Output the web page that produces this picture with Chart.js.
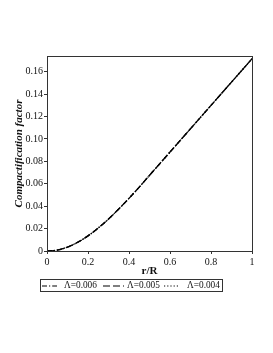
<!DOCTYPE html>
<html>
<head>
<meta charset="utf-8">
<script src="https://cdn.jsdelivr.net/npm/chart.js@4/dist/chart.umd.min.js"></script>
<style>
  html, body { margin: 0; padding: 0; background: #fff; }
  #wrap { position: relative; width: 273px; height: 353px; overflow: hidden; }
  #legend { position: absolute; left: 40px; top: 279px; width: 183px; height: 13px; box-sizing: border-box;
            border: 1px solid #333; font-family: 'Liberation Serif', 'Times New Roman', serif; font-size: 9.3px; color: #111; }
  #legend .it { position: absolute; top: 0; line-height: 11px; white-space: nowrap; }
  #legend svg { position: absolute; top: 5px; }
</style>
</head>
<body>
<div id="wrap">
  <canvas id="c" width="273" height="353"></canvas>
  <div id="legend"></div>
</div>
<script>
// ---- data ----
const rOverR     = [0, 0.05, 0.1, 0.15, 0.2, 0.25, 0.3, 0.35, 0.4, 0.45, 0.5, 0.55, 0.6, 0.65, 0.7, 0.75, 0.8, 0.85, 0.9, 0.95, 1.0];
const lambda006  = [0, 0.0008, 0.0035, 0.0078, 0.0135, 0.0205, 0.0285, 0.0375, 0.0470, 0.0570, 0.0675, 0.0779, 0.0883, 0.0987, 0.1091, 0.1195, 0.1299, 0.1403, 0.1507, 0.1611, 0.1715];
const lambda005  = [0, 0.0008, 0.0035, 0.0078, 0.0135, 0.0205, 0.0285, 0.0375, 0.0470, 0.0570, 0.0675, 0.0779, 0.0883, 0.0987, 0.1091, 0.1195, 0.1299, 0.1403, 0.1507, 0.1611, 0.1715];
const lambda004  = [0, 0.0008, 0.0035, 0.0078, 0.0135, 0.0205, 0.0285, 0.0375, 0.0470, 0.0570, 0.0675, 0.0779, 0.0883, 0.0987, 0.1091, 0.1195, 0.1299, 0.1403, 0.1507, 0.1611, 0.1715];
const seriesLabels = ['\u039B=0.006', '\u039B=0.005', '\u039B=0.004'];
const xTickValues = [0, 0.2, 0.4, 0.6, 0.8, 1];
const yTickValues = [0, 0.02, 0.04, 0.06, 0.08, 0.10, 0.12, 0.14, 0.16];

const FONT = "'Liberation Serif', 'Times New Roman', serif";
const dashes = [[5, 2, 1.2, 2], [7, 3], [1.2, 2]];
const seriesValues = [lambda006, lambda005, lambda004];

const toPts = arr => rOverR.map((x, i) => ({ x: x, y: arr[i] }));

const frame = {
  id: 'frame',
  afterDraw(chart) {
    const { ctx, chartArea: a } = chart;
    ctx.save();
    ctx.strokeStyle = '#333';
    ctx.lineWidth = 1;
    ctx.strokeRect(Math.round(a.left) + 0.5, Math.round(a.top) + 0.5,
                   Math.round(a.right - a.left), Math.round(a.bottom - a.top));
    ctx.restore();
  }
};

new Chart(document.getElementById('c'), {
  type: 'line',
  data: {
    datasets: seriesValues.map((arr, k) => ({
      label: seriesLabels[k],
      data: toPts(arr),
      borderColor: '#000',
      borderWidth: 1.3,
      borderDash: dashes[k],
      pointRadius: 0,
      fill: false,
      cubicInterpolationMode: 'monotone'
    }))
  },
  options: {
    responsive: false,
    animation: false,
    layout: { padding: { top: 56, right: 21, left: 0, bottom: 0 } },
    plugins: { legend: { display: false }, tooltip: { enabled: false } },
    scales: {
      x: {
        type: 'linear', min: 0, max: 1,
        afterFit(s) { s.height = 102; },
        afterBuildTicks(s) { s.ticks = xTickValues.map(v => ({ value: v })); },
        ticks: {
          font: { family: FONT, size: 10 }, color: '#111', padding: 2, maxRotation: 0,
          callback: v => (v === 0 ? '0' : v === 1 ? '1' : v.toFixed(1))
        },
        grid: { drawOnChartArea: false, drawTicks: true, tickLength: 3, color: '#333' },
        border: { color: '#333' },
        title: { display: true, text: 'r/R', font: { family: FONT, size: 11, weight: 'bold' }, color: '#111',
                 padding: { top: 0, bottom: 75 } }
      },
      y: {
        type: 'linear', min: 0, max: 0.174,
        afterFit(s) { s.width = 47; },
        afterBuildTicks(s) { s.ticks = yTickValues.map(v => ({ value: v })); },
        ticks: {
          font: { family: FONT, size: 10 }, color: '#111', padding: 1,
          callback: v => (v === 0 ? '0' : v.toFixed(2))
        },
        grid: { drawOnChartArea: false, drawTicks: true, tickLength: 3, color: '#333' },
        border: { color: '#333' },
        title: { display: true, text: 'Compactification factor',
                 font: { family: FONT, size: 11, weight: 'bold', style: 'italic' }, color: '#111',
                 padding: { top: 13, bottom: 0 } }
      }
    }
  },
  plugins: [frame]
});

// HTML legend built from the series labels and dash styles
const legend = document.getElementById('legend');
const items = [
  { sx: 1, sw: 15, tx: 23 },
  { sx: 62, sw: 21, tx: 86 },
  { sx: 123, sw: 15, tx: 146 }
];
items.forEach((p, k) => {
  const ns = 'http://www.w3.org/2000/svg';
  const svg = document.createElementNS(ns, 'svg');
  svg.setAttribute('width', p.sw); svg.setAttribute('height', 2);
  svg.style.left = p.sx + 'px';
  const ln = document.createElementNS(ns, 'line');
  ln.setAttribute('x1', 0); ln.setAttribute('x2', p.sw);
  ln.setAttribute('y1', 1); ln.setAttribute('y2', 1);
  ln.setAttribute('stroke', '#000'); ln.setAttribute('stroke-width', 1.2);
  ln.setAttribute('stroke-dasharray', dashes[k].join(' '));
  svg.appendChild(ln);
  legend.appendChild(svg);
  const t = document.createElement('span');
  t.className = 'it';
  t.style.left = p.tx + 'px';
  t.textContent = seriesLabels[k];
  legend.appendChild(t);
});
</script>
</body>
</html>
